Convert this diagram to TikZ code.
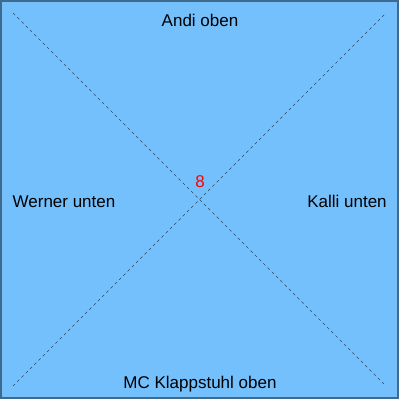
\documentclass[tikz,border=0pt]{standalone}
\usepackage{fontspec}
\setmainfont{Liberation Sans}
\usepackage{xcolor}
\usetikzlibrary{positioning}

\definecolor{fieldblue}{HTML}{74C0FC}
\definecolor{framedark}{HTML}{3E6A8E}
\definecolor{diagdark}{HTML}{2F4A66}

\begin{document}
\begin{tikzpicture}[
  x=1pt, y=-1pt,
  field/.style={draw=framedark, fill=fieldblue, line width=2pt},
  diag/.style={draw=diagdark, line width=0.5pt, dash pattern=on 3pt off 3pt},
  seat/.style={anchor=base, inner sep=0pt, font=\fontsize{17}{20}\selectfont},
  score/.style={seat, text=red}
]
\useasboundingbox (0,0) rectangle (400,400);

% playing field
\draw[field] (1,1) rectangle (398,398);

% corners for the diagonals
\coordinate (tl) at (13,13);
\coordinate (tr) at (386,13);
\coordinate (bl) at (13,386);
\coordinate (br) at (386,386);

\draw[diag] (tl) -- (br);
\draw[diag] (bl) -- (tr);

% players
\node[seat] (andi) at (200,26) {Andi oben};
\node[seat] (werner) at (64,207) {Werner unten};
\node[seat] (kalli) at (347,207) {Kalli unten};
\node[seat] (mc) at (200,388) {MC Klappstuhl oben};

% points
\node[score] (pts) at (200,187) {8};
\end{tikzpicture}
\end{document}
